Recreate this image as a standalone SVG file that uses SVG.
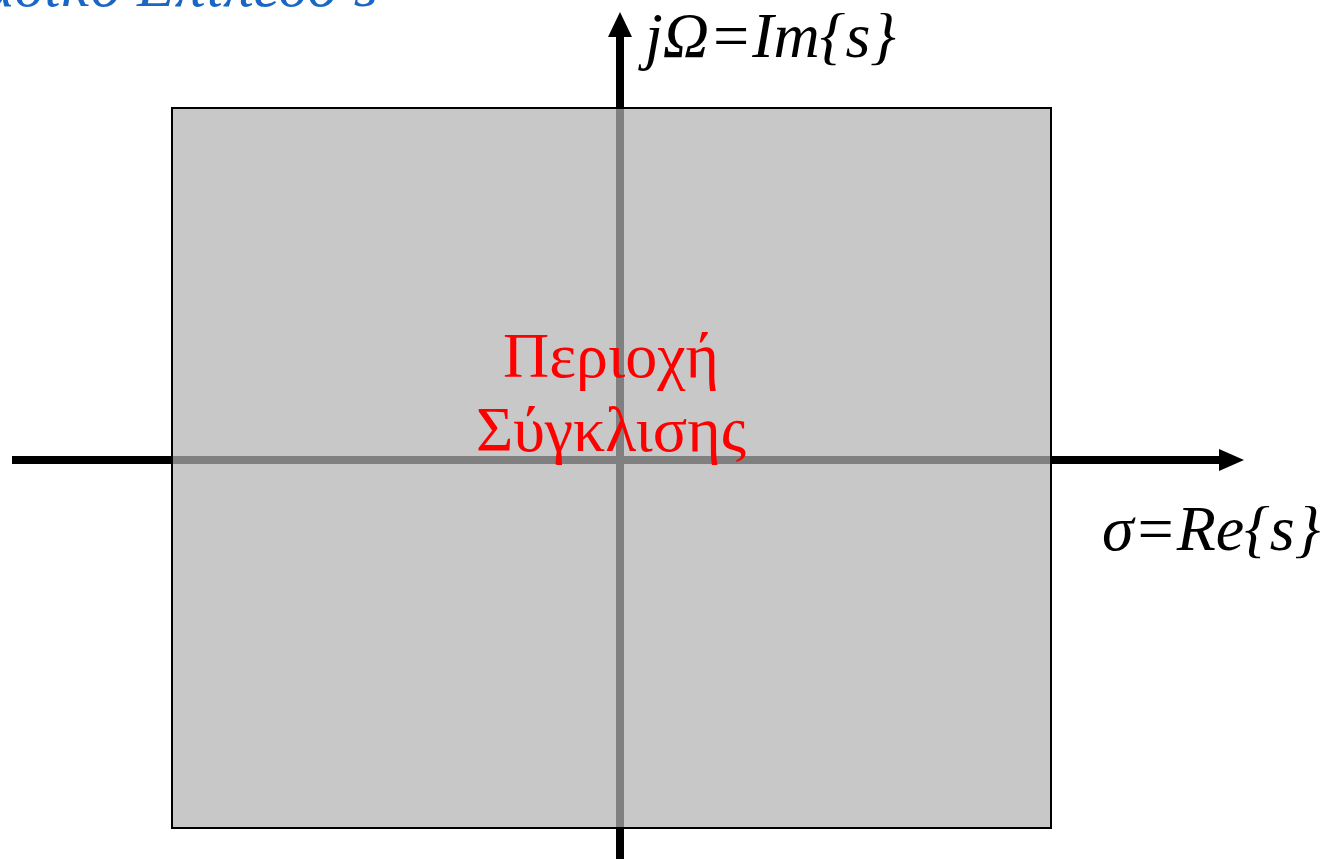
<svg xmlns="http://www.w3.org/2000/svg" width="1325" height="859" viewBox="0 0 1325 859">
<defs>
<style>
.axis{stroke:#000;stroke-width:8;fill:none}
.lbl{font-family:"Liberation Serif","Times New Roman",serif;font-style:italic;font-size:64px;fill:#000}
.roc{font-family:"Liberation Serif","Times New Roman",serif;font-size:64px;fill:#ff0000;text-anchor:middle}
</style>
</defs>
<rect width="1325" height="859" fill="#fff"/>
<text id="title" x="378" y="6" text-anchor="end" style="font-family:'Liberation Serif','Times New Roman',serif;font-style:italic;font-size:62px;fill:#1a66c4">Μιγαδικό Επίπεδο s</text>
<g id="connectors">
<line class="axis" x1="12" y1="460" x2="1220" y2="460"/>
<polygon points="1219,449 1244,460 1219,471" fill="#000"/>
<line class="axis" x1="620" y1="859" x2="620" y2="36"/>
<polygon points="608,37 620,12 632,37" fill="#000"/>
</g>
<g id="region">
<rect x="172" y="108" width="879" height="720" fill="rgb(178,178,178)" fill-opacity="0.718" stroke="#000" stroke-width="2"/>
<text class="roc" x="611" y="377">Περιοχή</text>
<text class="roc" x="611" y="451">Σύγκλισης</text>
</g>
<g id="labels">
<text class="lbl" x="645" y="57">jΩ=Im{s}</text>
<text class="lbl" x="1102" y="550">σ=Re{s}</text>
</g>
</svg>
